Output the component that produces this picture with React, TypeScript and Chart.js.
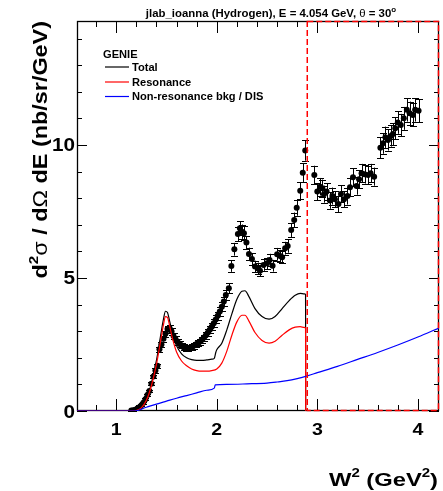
import React, { useEffect, useRef } from 'react';
import { Chart, registerables } from 'chart.js';

Chart.register(...registerables);

// ---- plot text ----
const TITLE_MAIN = 'jlab_ioanna (Hydrogen), E = 4.054 GeV, ';
const TITLE_ANGLE = '30';
const LEGEND_HEADER = 'GENIE';
const LEGEND_LABELS = ['Total', 'Resonance', 'Non-resonance bkg / DIS'];

// ---- axes ----
const X_MIN = 0.61;
const X_MAX = 4.21;
const Y_MIN = 0;
const Y_MAX = 14.66;
const X_TICKS = [1, 2, 3, 4];
const Y_TICKS = [0, 5, 10];
const X_TICK_LABELS = ['1', '2', '3', '4'];
const Y_TICK_LABELS = ['0', '5', '10'];
const X_MINOR_STEP = 0.2;
const Y_MINOR_STEP = 1;

// W^2 above which the data are outside the fitted region (dashed box)
const CUT_W2 = 2.9;

// ---- measured cross section (nb/sr/GeV) ----
const W2_DATA = [
  1.15, 1.17, 1.19, 1.21, 1.23, 1.25, 1.27, 1.29, 1.31, 1.33,
  1.35, 1.37, 1.39, 1.41, 1.43, 1.45, 1.47, 1.49, 1.51, 1.53,
  1.55, 1.57, 1.59, 1.61, 1.63, 1.65, 1.67, 1.69, 1.71, 1.73,
  1.75, 1.77, 1.79, 1.81, 1.83, 1.85, 1.87, 1.89, 1.91, 1.93,
  1.95, 1.97, 1.99, 2.01, 2.03, 2.05, 2.07, 2.09, 2.12, 2.145,
  2.175, 2.21, 2.23, 2.25, 2.27, 2.295, 2.32, 2.35, 2.38, 2.41,
  2.43, 2.465, 2.5, 2.525, 2.555, 2.6, 2.63, 2.65, 2.68, 2.705,
  2.74, 2.77, 2.795, 2.83, 2.855, 2.88, 2.97, 3.0, 3.027, 3.05,
  3.066, 3.092, 3.125, 3.15, 3.175, 3.21, 3.235, 3.265, 3.3, 3.325,
  3.355, 3.39, 3.415, 3.44, 3.47, 3.505, 3.53, 3.565, 3.627, 3.653,
  3.677, 3.703, 3.73, 3.752, 3.775, 3.8, 3.83, 3.86, 3.89, 3.918,
  3.95, 3.973, 4.007,
];
const XS_DATA = [
  0.02, 0.03, 0.05, 0.09, 0.14, 0.22, 0.31, 0.44, 0.6, 0.75,
  1.02, 1.3, 1.52, 1.7, 2.32, 2.5, 2.72, 2.9, 3.08, 3.12,
  3.0, 2.82, 2.7, 2.6, 2.52, 2.46, 2.4, 2.37, 2.36, 2.38,
  2.41, 2.45, 2.5, 2.55, 2.6, 2.67, 2.75, 2.84, 2.94, 3.05,
  3.17, 3.3, 3.44, 3.58, 3.74, 3.92, 4.12, 4.36, 4.61, 5.45,
  6.08, 6.65, 6.87, 6.74, 6.68, 6.33, 5.9, 5.71, 5.43, 5.36,
  5.27, 5.49, 5.55, 5.68, 5.46, 5.89, 5.83, 5.78, 6.12, 6.2,
  6.8, 7.18, 7.64, 8.28, 8.96, 9.79, 8.87, 8.25, 8.43, 8.37,
  8.15, 8.25, 7.91, 8.08, 7.96, 7.78, 8.16, 7.96, 8.08, 8.41,
  8.79, 8.46, 8.71, 8.94, 8.9, 8.87, 8.94, 8.81, 9.9, 10.06,
  10.29, 10.19, 10.34, 10.41, 10.63, 10.84, 10.75, 11.0, 11.32, 11.19,
  11.13, 11.32, 11.29,
];
const XS_ERR = [
  0.02, 0.02, 0.02, 0.03, 0.03, 0.03, 0.04, 0.04, 0.05, 0.05,
  0.06, 0.07, 0.08, 0.08, 0.1, 0.11, 0.11, 0.12, 0.13, 0.13,
  0.13, 0.12, 0.12, 0.11, 0.11, 0.11, 0.11, 0.1, 0.1, 0.1,
  0.11, 0.11, 0.11, 0.11, 0.11, 0.12, 0.12, 0.12, 0.13, 0.13,
  0.14, 0.14, 0.15, 0.15, 0.16, 0.17, 0.17, 0.18, 0.19, 0.22,
  0.24, 0.26, 0.27, 0.27, 0.26, 0.25, 0.24, 0.23, 0.22, 0.22,
  0.21, 0.22, 0.22, 0.23, 0.22, 0.24, 0.23, 0.23, 0.24, 0.25,
  0.27, 0.28, 0.3, 0.32, 0.35, 0.38, 0.35, 0.32, 0.33, 0.33,
  0.32, 0.32, 0.31, 0.32, 0.31, 0.31, 0.32, 0.31, 0.32, 0.33,
  0.34, 0.33, 0.34, 0.35, 0.35, 0.35, 0.35, 0.34, 0.39, 0.39,
  0.4, 0.4, 0.4, 0.41, 0.41, 0.42, 0.42, 0.43, 0.44, 0.44,
  0.43, 0.44, 0.44,
];

// ---- GENIE predictions ----
const TOTAL_W2 = [
  0.61, 1.15, 1.2, 1.25, 1.3, 1.35, 1.4, 1.44, 1.47, 1.49,
  1.51, 1.53, 1.56, 1.6, 1.65, 1.7, 1.75, 1.8, 1.85, 1.9,
  1.95, 1.975, 1.99, 2.0, 2.05, 2.1, 2.15, 2.2, 2.25, 2.28,
  2.32, 2.38, 2.45, 2.52, 2.58, 2.65, 2.72, 2.78, 2.83, 2.87,
  2.883, 2.884,
];
const TOTAL_XS = [
  0, 0, 0.03, 0.14, 0.45, 1.05, 1.9, 2.8, 3.45, 3.75,
  3.7, 3.4, 2.9, 2.45, 2.15, 2.0, 1.93, 1.9, 1.9, 1.92,
  1.95, 1.98, 2.2, 2.3, 2.55, 3.05, 3.65, 4.2, 4.5, 4.52,
  4.3, 3.85, 3.55, 3.45, 3.55, 3.85, 4.15, 4.35, 4.42, 4.4,
  4.38, 0,
];
const RES_W2 = [
  0.61, 1.15, 1.2, 1.25, 1.3, 1.35, 1.4, 1.44, 1.47, 1.49,
  1.51, 1.53, 1.56, 1.6, 1.65, 1.7, 1.75, 1.8, 1.85, 1.9,
  1.95, 2.0, 2.05, 2.1, 2.15, 2.2, 2.25, 2.28, 2.32, 2.38,
  2.45, 2.52, 2.58, 2.65, 2.72, 2.78, 2.83, 2.87, 2.883, 2.884,
];
const RES_XS = [
  0, 0, 0.02, 0.12, 0.4, 0.95, 1.75, 2.6, 3.25, 3.55,
  3.52, 3.22, 2.72, 2.22, 1.88, 1.7, 1.58, 1.52, 1.5, 1.5,
  1.52, 1.58, 1.8, 2.25, 2.85, 3.35, 3.6, 3.6, 3.38, 2.95,
  2.65, 2.55, 2.62, 2.85, 3.05, 3.15, 3.17, 3.14, 3.12, 0,
];
const NONRES_W2 = [
  0.61, 1.18, 1.3, 1.4, 1.5, 1.6, 1.7, 1.8, 1.9, 1.975,
  1.985, 2.1, 2.3, 2.5, 2.6, 2.7, 2.8, 2.9, 3.0, 3.2,
  3.4, 3.6, 3.8, 4.0, 4.21,
];
const NONRES_XS = [
  0, 0, 0.14, 0.26, 0.37, 0.48, 0.58, 0.68, 0.78, 0.86,
  0.98, 1.0, 1.02, 1.05, 1.09, 1.14, 1.22, 1.32, 1.44, 1.68,
  1.94, 2.2, 2.48, 2.78, 3.12,
];

const COLORS = { total: '#000000', res: '#ff0000', nonres: '#0000ff' };
const FAMILY = '"Liberation Sans", Arial, Helvetica, sans-serif';
const bold = (s: number) => `bold ${s}px ${FAMILY}`;
const regular = (s: number) => `${s}px ${FAMILY}`;

type Seg = { text: string; font: string; dy?: number };

// draws a run of mixed-font text; sx widens the glyphs along the text direction
function drawRich(
  ctx: CanvasRenderingContext2D,
  segs: Seg[],
  x: number,
  y: number,
  align: 'left' | 'center' | 'right',
  sx = 1
) {
  ctx.save();
  ctx.textAlign = 'left';
  ctx.textBaseline = 'alphabetic';
  const widths = segs.map((s) => {
    ctx.font = s.font;
    return ctx.measureText(s.text).width;
  });
  const total = widths.reduce((a, b) => a + b, 0);
  const start = align === 'left' ? 0 : align === 'center' ? -total / 2 : -total;
  ctx.translate(x, y);
  ctx.scale(sx, 1);
  let cx = start;
  segs.forEach((s, i) => {
    ctx.font = s.font;
    ctx.fillText(s.text, cx, s.dy || 0);
    cx += widths[i];
  });
  ctx.restore();
}

const pairs = (xs: number[], ys: number[]) => xs.map((x, i) => ({ x, y: ys[i] }));

// error bars under the markers
const errorBarPlugin = {
  id: 'errorBars',
  beforeDatasetsDraw(chart: any) {
    const { ctx, scales } = chart;
    const xs = scales.x;
    const ys = scales.y;
    ctx.save();
    ctx.strokeStyle = '#000';
    ctx.lineWidth = 1;
    ctx.beginPath();
    W2_DATA.forEach((w, i) => {
      const px = Math.round(xs.getPixelForValue(w)) + 0.5;
      const top = ys.getPixelForValue(XS_DATA[i] + XS_ERR[i]);
      const bot = ys.getPixelForValue(XS_DATA[i] - XS_ERR[i]);
      ctx.moveTo(px, top);
      ctx.lineTo(px, bot);
      ctx.moveTo(px - 3.5, Math.round(top) + 0.5);
      ctx.lineTo(px + 3.5, Math.round(top) + 0.5);
      ctx.moveTo(px - 3.5, Math.round(bot) + 0.5);
      ctx.lineTo(px + 3.5, Math.round(bot) + 0.5);
    });
    ctx.stroke();
    ctx.restore();
  },
};

// frame with inward major/minor ticks on all four sides, plus tick labels
const framePlugin = {
  id: 'frame',
  beforeDatasetsDraw(chart: any) {
    const { ctx, chartArea: a, scales } = chart;
    const xs = scales.x;
    const ys = scales.y;
    ctx.save();
    ctx.strokeStyle = '#000';
    ctx.lineWidth = 1;
    ctx.beginPath();
    const kx0 = Math.ceil(X_MIN / X_MINOR_STEP - 1e-6);
    const kx1 = Math.floor(X_MAX / X_MINOR_STEP + 1e-6);
    for (let k = kx0; k <= kx1; k++) {
      const v = k * X_MINOR_STEP;
      const major = X_TICKS.some((t) => Math.abs(t - v) < 1e-6);
      const len = major ? 12 : 6;
      const px = Math.round(xs.getPixelForValue(v)) + 0.5;
      ctx.moveTo(px, a.bottom);
      ctx.lineTo(px, a.bottom - len);
      ctx.moveTo(px, a.top);
      ctx.lineTo(px, a.top + len);
    }
    for (let v = Y_MIN; v <= Y_MAX + 1e-6; v += Y_MINOR_STEP) {
      const major = Y_TICKS.some((t) => Math.abs(t - v) < 1e-6);
      const len = major ? 10 : 5;
      const py = Math.round(ys.getPixelForValue(v)) + 0.5;
      ctx.moveTo(a.left, py);
      ctx.lineTo(a.left + len, py);
      ctx.moveTo(a.right, py);
      ctx.lineTo(a.right - len, py);
    }
    ctx.stroke();
    ctx.lineWidth = 1.3;
    ctx.strokeRect(a.left + 0.5, a.top + 0.5, a.right - a.left - 1, a.bottom - a.top - 1);

    // tick labels
    ctx.fillStyle = '#000';
    X_TICKS.forEach((v, i) => {
      drawRich(ctx, [{ text: X_TICK_LABELS[i], font: bold(17) }], xs.getPixelForValue(v), 435, 'center', 1.15);
    });
    Y_TICKS.forEach((v, i) => {
      drawRich(ctx, [{ text: Y_TICK_LABELS[i], font: bold(18) }], 75, ys.getPixelForValue(v) + 6.5, 'right', 1.15);
    });
    ctx.restore();
  },
  afterDraw(chart: any) {
    const { ctx, chartArea: a, scales } = chart;
    const xs = scales.x;
    ctx.save();
    // dashed box marking the region beyond the cut
    const cx = xs.getPixelForValue(CUT_W2);
    ctx.strokeStyle = '#ff0000';
    ctx.lineWidth = 1.5;
    ctx.setLineDash([6, 3]);
    ctx.strokeRect(cx, a.top + 0.5, a.right - cx - 0.5, a.bottom - a.top - 1);
    ctx.setLineDash([]);

    ctx.fillStyle = '#000';
    // title
    drawRich(
      ctx,
      [
        { text: TITLE_MAIN, font: bold(10) },
        { text: 'θ', font: regular(10) },
        { text: ' = ' + TITLE_ANGLE, font: bold(10) },
        { text: 'o', font: bold(7), dy: -5 },
      ],
      271,
      17,
      'center',
      1.14
    );

    // legend
    drawRich(ctx, [{ text: LEGEND_HEADER, font: bold(10) }], 103, 57.5, 'left', 1.11);
    const legendColors = [COLORS.total, COLORS.res, COLORS.nonres];
    const rowsY = [67, 82, 96.5];
    LEGEND_LABELS.forEach((label, i) => {
      ctx.strokeStyle = legendColors[i];
      ctx.lineWidth = 1.2;
      ctx.beginPath();
      ctx.moveTo(105, rowsY[i]);
      ctx.lineTo(129, rowsY[i]);
      ctx.stroke();
      drawRich(ctx, [{ text: label, font: bold(10) }], 132, rowsY[i] + 3.5, 'left', 1.11);
    });

    // x axis title
    drawRich(
      ctx,
      [
        { text: 'W', font: bold(19) },
        { text: '2', font: bold(12), dy: -9 },
        { text: ' (GeV', font: bold(19) },
        { text: '2', font: bold(12), dy: -9 },
        { text: ')', font: bold(19) },
      ],
      438,
      486,
      'right',
      1.25
    );

    // y axis title, rotated
    ctx.translate(47, 21);
    ctx.rotate(-Math.PI / 2);
    drawRich(
      ctx,
      [
        { text: 'd', font: bold(20) },
        { text: '2', font: bold(13), dy: -9 },
        { text: 'σ', font: regular(20) },
        { text: ' / d', font: bold(20) },
        { text: 'Ω', font: regular(20) },
        { text: ' dE (nb/sr/GeV)', font: bold(20) },
      ],
      0,
      0,
      'right',
      1.17
    );
    ctx.restore();
  },
};

const curve = (data: { x: number; y: number }[], color: string, order: number) => ({
  type: 'line' as const,
  data,
  borderColor: color,
  borderWidth: 1.2,
  pointRadius: 0,
  fill: false,
  cubicInterpolationMode: 'monotone' as const,
  order,
});

export default function App() {
  const ref = useRef<HTMLCanvasElement>(null);

  useEffect(() => {
    if (!ref.current) return;
    const chart = new Chart(ref.current, {
      type: 'line',
      data: {
        datasets: [
          curve(pairs(NONRES_W2, NONRES_XS), COLORS.nonres, 1),
          curve(pairs(RES_W2, RES_XS), COLORS.res, 2),
          curve(pairs(TOTAL_W2, TOTAL_XS), COLORS.total, 3),
          {
            type: 'line',
            data: pairs(W2_DATA, XS_DATA),
            showLine: false,
            pointRadius: 3,
            pointBackgroundColor: '#000',
            pointBorderWidth: 0,
            order: 10,
          } as any,
        ],
      },
      options: {
        responsive: false,
        animation: false,
        devicePixelRatio: 1,
        events: [],
        layout: { padding: { top: 21, right: 2, left: 0, bottom: 0 } },
        plugins: {
          legend: { display: false },
          tooltip: { enabled: false },
          title: { display: false },
        },
        scales: {
          x: {
            type: 'linear',
            min: X_MIN,
            max: X_MAX,
            grid: { display: false, drawTicks: false },
            border: { display: false },
            ticks: { display: false },
            afterBuildTicks: (s: any) => {
              s.ticks = X_TICKS.map((v) => ({ value: v }));
            },
            afterFit: (s: any) => {
              s.height = 80;
            },
          },
          y: {
            type: 'linear',
            min: Y_MIN,
            max: Y_MAX,
            grid: { display: false, drawTicks: false },
            border: { display: false },
            ticks: { display: false },
            afterBuildTicks: (s: any) => {
              s.ticks = Y_TICKS.map((v) => ({ value: v }));
            },
            afterFit: (s: any) => {
              s.width = 77;
            },
          },
        },
      },
      plugins: [errorBarPlugin, framePlugin],
    });
    return () => chart.destroy();
  }, []);

  return (
    <div style={{ position: 'absolute', left: 0, top: 0, width: 443, height: 491, background: '#fff' }}>
      <canvas ref={ref} width={443} height={491} style={{ display: 'block', width: 443, height: 491 }} />
    </div>
  );
}
